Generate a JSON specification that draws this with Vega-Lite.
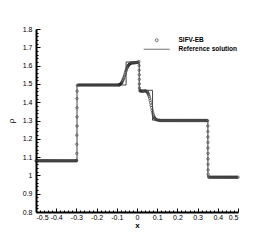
{
 "$schema": "https://vega.github.io/schema/vega-lite/v6.json",
 "width": 202, "height": 183,
 "autosize": {"type": "none"},
 "padding": {"left": 36, "top": 29, "right": 32, "bottom": 28},
 "background": "white",
 "config": {
  "view": {"stroke": null},
  "font": "Liberation Sans",
  "locale": {"number": {"decimal": ".", "thousands": ",", "grouping": [3], "currency": ["$", ""], "minus": "-"}},
  "axis": {"grid": false, "domainColor": "#000", "domainWidth": 2, "tickColor": "#000", "tickWidth": 1, "labelColor": "#000", "labelFontSize": 7, "labelFont": "Liberation Sans", "titleColor": "#000", "titleFont": "Liberation Sans"}
 },
 "datasets": {
  "ref": [
   {"x": -0.5, "y": 1.08}, {"x": -0.297, "y": 1.08}, {"x": -0.297, "y": 1.494}, {"x": -0.054, "y": 1.494}, {"x": -0.054, "y": 1.62}, {"x": 0.011, "y": 1.62}, {"x": 0.011, "y": 1.465}, {"x": 0.077, "y": 1.465}, {"x": 0.077, "y": 1.302}, {"x": 0.351, "y": 1.302}, {"x": 0.351, "y": 0.99}, {"x": 0.5, "y": 0.99}
  ],
  "num": [
   {"x": -0.5, "y": 1.08}, {"x": -0.495, "y": 1.08}, {"x": -0.49, "y": 1.08}, {"x": -0.485, "y": 1.08}, {"x": -0.48, "y": 1.08}, {"x": -0.475, "y": 1.08}, {"x": -0.47, "y": 1.08}, {"x": -0.465, "y": 1.08}, {"x": -0.46, "y": 1.08}, {"x": -0.455, "y": 1.08}, {"x": -0.45, "y": 1.08}, {"x": -0.445, "y": 1.08}, {"x": -0.44, "y": 1.08}, {"x": -0.435, "y": 1.08}, {"x": -0.43, "y": 1.08}, {"x": -0.425, "y": 1.08}, {"x": -0.42, "y": 1.08}, {"x": -0.415, "y": 1.08}, {"x": -0.41, "y": 1.08}, {"x": -0.405, "y": 1.08}, {"x": -0.4, "y": 1.08}, {"x": -0.395, "y": 1.08}, {"x": -0.39, "y": 1.08}, {"x": -0.385, "y": 1.08}, {"x": -0.38, "y": 1.08}, {"x": -0.375, "y": 1.08}, {"x": -0.37, "y": 1.08}, {"x": -0.365, "y": 1.08}, {"x": -0.36, "y": 1.08}, {"x": -0.355, "y": 1.08}, {"x": -0.35, "y": 1.08}, {"x": -0.345, "y": 1.08}, {"x": -0.34, "y": 1.08}, {"x": -0.335, "y": 1.08}, {"x": -0.33, "y": 1.08}, {"x": -0.325, "y": 1.08}, {"x": -0.32, "y": 1.08}, {"x": -0.315, "y": 1.08}, {"x": -0.31, "y": 1.08}, {"x": -0.305, "y": 1.08}, {"x": -0.3, "y": 1.08}, {"x": -0.299, "y": 1.082},
   {"x": -0.298, "y": 1.12}, {"x": -0.298, "y": 1.17}, {"x": -0.298, "y": 1.22}, {"x": -0.297, "y": 1.27}, {"x": -0.297, "y": 1.32}, {"x": -0.297, "y": 1.37}, {"x": -0.297, "y": 1.42}, {"x": -0.296, "y": 1.46},
   {"x": -0.295, "y": 1.492}, {"x": -0.29, "y": 1.494}, {"x": -0.285, "y": 1.494}, {"x": -0.28, "y": 1.494}, {"x": -0.275, "y": 1.494}, {"x": -0.27, "y": 1.494}, {"x": -0.265, "y": 1.494}, {"x": -0.26, "y": 1.494}, {"x": -0.255, "y": 1.494}, {"x": -0.25, "y": 1.494}, {"x": -0.245, "y": 1.494}, {"x": -0.24, "y": 1.494}, {"x": -0.235, "y": 1.494}, {"x": -0.23, "y": 1.494}, {"x": -0.225, "y": 1.494}, {"x": -0.22, "y": 1.494}, {"x": -0.215, "y": 1.494}, {"x": -0.21, "y": 1.494}, {"x": -0.205, "y": 1.494}, {"x": -0.2, "y": 1.494}, {"x": -0.195, "y": 1.494}, {"x": -0.19, "y": 1.494}, {"x": -0.185, "y": 1.494}, {"x": -0.18, "y": 1.494}, {"x": -0.175, "y": 1.494}, {"x": -0.17, "y": 1.494}, {"x": -0.165, "y": 1.494}, {"x": -0.16, "y": 1.494}, {"x": -0.155, "y": 1.494}, {"x": -0.15, "y": 1.494}, {"x": -0.145, "y": 1.494}, {"x": -0.14, "y": 1.494}, {"x": -0.135, "y": 1.494}, {"x": -0.13, "y": 1.494}, {"x": -0.125, "y": 1.494}, {"x": -0.12, "y": 1.494}, {"x": -0.115, "y": 1.494}, {"x": -0.11, "y": 1.494}, {"x": -0.105, "y": 1.494}, {"x": -0.1, "y": 1.494}, {"x": -0.095, "y": 1.494}, {"x": -0.09, "y": 1.494},
   {"x": -0.0875, "y": 1.495}, {"x": -0.085, "y": 1.496}, {"x": -0.0825, "y": 1.498}, {"x": -0.08, "y": 1.5}, {"x": -0.0775, "y": 1.504}, {"x": -0.075, "y": 1.508}, {"x": -0.0725, "y": 1.514}, {"x": -0.07, "y": 1.52}, {"x": -0.0675, "y": 1.527}, {"x": -0.065, "y": 1.535}, {"x": -0.0625, "y": 1.543}, {"x": -0.06, "y": 1.552}, {"x": -0.0575, "y": 1.561}, {"x": -0.055, "y": 1.57}, {"x": -0.0525, "y": 1.578}, {"x": -0.05, "y": 1.585}, {"x": -0.0475, "y": 1.591}, {"x": -0.045, "y": 1.597}, {"x": -0.0425, "y": 1.601}, {"x": -0.04, "y": 1.605}, {"x": -0.0375, "y": 1.608}, {"x": -0.035, "y": 1.61}, {"x": -0.03, "y": 1.613}, {"x": -0.025, "y": 1.614}, {"x": -0.02, "y": 1.615}, {"x": -0.015, "y": 1.615}, {"x": -0.01, "y": 1.616}, {"x": -0.005, "y": 1.616}, {"x": 0, "y": 1.617}, {"x": 0.005, "y": 1.618}, {"x": 0.009, "y": 1.622},
   {"x": 0.0105, "y": 1.6}, {"x": 0.0108, "y": 1.575}, {"x": 0.011, "y": 1.55}, {"x": 0.0113, "y": 1.525}, {"x": 0.0116, "y": 1.5}, {"x": 0.012, "y": 1.478},
   {"x": 0.014, "y": 1.463}, {"x": 0.0175, "y": 1.462}, {"x": 0.02, "y": 1.461}, {"x": 0.025, "y": 1.46}, {"x": 0.03, "y": 1.46}, {"x": 0.035, "y": 1.461}, {"x": 0.04, "y": 1.462}, {"x": 0.045, "y": 1.461}, {"x": 0.05, "y": 1.457}, {"x": 0.0525, "y": 1.453}, {"x": 0.055, "y": 1.448}, {"x": 0.0575, "y": 1.441}, {"x": 0.06, "y": 1.433}, {"x": 0.0625, "y": 1.422}, {"x": 0.065, "y": 1.41}, {"x": 0.0675, "y": 1.397}, {"x": 0.07, "y": 1.383}, {"x": 0.0725, "y": 1.37}, {"x": 0.075, "y": 1.356}, {"x": 0.0775, "y": 1.344}, {"x": 0.08, "y": 1.334}, {"x": 0.0825, "y": 1.325}, {"x": 0.085, "y": 1.318}, {"x": 0.0875, "y": 1.313}, {"x": 0.09, "y": 1.309}, {"x": 0.095, "y": 1.305}, {"x": 0.1, "y": 1.303}, {"x": 0.105, "y": 1.302}, {"x": 0.11, "y": 1.301}, {"x": 0.115, "y": 1.3},
   {"x": 0.12, "y": 1.3}, {"x": 0.125, "y": 1.3}, {"x": 0.13, "y": 1.3}, {"x": 0.135, "y": 1.3}, {"x": 0.14, "y": 1.3}, {"x": 0.145, "y": 1.3}, {"x": 0.15, "y": 1.3}, {"x": 0.155, "y": 1.3}, {"x": 0.16, "y": 1.3}, {"x": 0.165, "y": 1.3}, {"x": 0.17, "y": 1.3}, {"x": 0.175, "y": 1.3}, {"x": 0.18, "y": 1.3}, {"x": 0.185, "y": 1.3}, {"x": 0.19, "y": 1.3}, {"x": 0.195, "y": 1.3}, {"x": 0.2, "y": 1.3}, {"x": 0.205, "y": 1.3}, {"x": 0.21, "y": 1.3}, {"x": 0.215, "y": 1.3}, {"x": 0.22, "y": 1.3}, {"x": 0.225, "y": 1.3}, {"x": 0.23, "y": 1.3}, {"x": 0.235, "y": 1.3}, {"x": 0.24, "y": 1.3}, {"x": 0.245, "y": 1.3}, {"x": 0.25, "y": 1.3}, {"x": 0.255, "y": 1.3}, {"x": 0.26, "y": 1.3}, {"x": 0.265, "y": 1.3}, {"x": 0.27, "y": 1.3}, {"x": 0.275, "y": 1.3}, {"x": 0.28, "y": 1.3}, {"x": 0.285, "y": 1.3}, {"x": 0.29, "y": 1.3}, {"x": 0.295, "y": 1.3}, {"x": 0.3, "y": 1.3}, {"x": 0.305, "y": 1.3}, {"x": 0.31, "y": 1.3}, {"x": 0.315, "y": 1.3}, {"x": 0.32, "y": 1.3}, {"x": 0.325, "y": 1.3}, {"x": 0.33, "y": 1.3}, {"x": 0.335, "y": 1.3}, {"x": 0.34, "y": 1.3}, {"x": 0.345, "y": 1.3}, {"x": 0.349, "y": 1.299},
   {"x": 0.3505, "y": 1.27}, {"x": 0.3505, "y": 1.24}, {"x": 0.351, "y": 1.21}, {"x": 0.351, "y": 1.18}, {"x": 0.351, "y": 1.15}, {"x": 0.3515, "y": 1.12}, {"x": 0.3515, "y": 1.09}, {"x": 0.352, "y": 1.06}, {"x": 0.352, "y": 1.03}, {"x": 0.3525, "y": 1.005},
   {"x": 0.355, "y": 0.99}, {"x": 0.36, "y": 0.99}, {"x": 0.365, "y": 0.99}, {"x": 0.37, "y": 0.99}, {"x": 0.375, "y": 0.99}, {"x": 0.38, "y": 0.99}, {"x": 0.385, "y": 0.99}, {"x": 0.39, "y": 0.99}, {"x": 0.395, "y": 0.99}, {"x": 0.4, "y": 0.99}, {"x": 0.405, "y": 0.99}, {"x": 0.41, "y": 0.99}, {"x": 0.415, "y": 0.99}, {"x": 0.42, "y": 0.99}, {"x": 0.425, "y": 0.99}, {"x": 0.43, "y": 0.99}, {"x": 0.435, "y": 0.99}, {"x": 0.44, "y": 0.99}, {"x": 0.445, "y": 0.99}, {"x": 0.45, "y": 0.99}, {"x": 0.455, "y": 0.99}, {"x": 0.46, "y": 0.99}, {"x": 0.465, "y": 0.99}, {"x": 0.47, "y": 0.99}, {"x": 0.475, "y": 0.99}, {"x": 0.48, "y": 0.99}, {"x": 0.485, "y": 0.99}, {"x": 0.49, "y": 0.99}, {"x": 0.495, "y": 0.99}, {"x": 0.5, "y": 0.99}
  ]
 },
 "layer": [
  {
   "data": {"name": "num"},
   "mark": {"type": "point", "filled": false, "color": "#000", "opacity": 0.55, "size": 6, "strokeWidth": 1},
   "encoding": {
    "x": {"field": "x", "type": "quantitative", "scale": {"domain": [-0.5, 0.5], "nice": false, "zero": false},
     "axis": {"orient": "bottom", "values": [-0.48,-0.46,-0.44,-0.42,-0.38,-0.36,-0.34,-0.32,-0.28,-0.26,-0.24,-0.22,-0.18,-0.16,-0.14,-0.12,-0.08,-0.06,-0.04,-0.02,0.02,0.04,0.06,0.08,0.12,0.14,0.16,0.18,0.22,0.24,0.26,0.28,0.32,0.34,0.36,0.38,0.42,0.44,0.46,0.48], "labels": false, "domain": false, "title": null, "tickSize": -2}},
    "y": {"field": "y", "type": "quantitative", "scale": {"domain": [0.8, 1.8], "nice": false, "zero": false},
     "axis": {"orient": "left", "values": [0.82,0.84,0.86,0.88,0.92,0.94,0.96,0.98,1.02,1.04,1.06,1.08,1.12,1.14,1.16,1.18,1.22,1.24,1.26,1.28,1.32,1.34,1.36,1.38,1.42,1.44,1.46,1.48,1.52,1.54,1.56,1.58,1.62,1.64,1.66,1.68,1.72,1.74,1.76,1.78], "labels": false, "domain": false, "title": null, "tickSize": -2}},
    "shape": {"datum": "SIFV-EB", "type": "nominal",
     "scale": {"domain": ["SIFV-EB", "Reference solution"], "range": ["circle", "M-8.7,0H8.7"]},
     "legend": {"title": null, "orient": "none", "legendX": 117.5, "legendY": 8, "padding": 0, "labelFontSize": 6.5, "labelFontWeight": "bold", "labelColor": "#000", "labelOffset": 18.5, "rowPadding": 2,
      "symbolSize": 9,
      "symbolStrokeWidth": 1}}
   }
  },
  {
   "data": {"name": "ref"},
   "mark": {"type": "line", "color": "#444", "strokeWidth": 1},
   "encoding": {
    "x": {"field": "x", "type": "quantitative", "scale": {"domain": [-0.5, 0.5], "nice": false, "zero": false},
     "axis": {"orient": "bottom", "values": [-0.5,-0.4,-0.3,-0.2,-0.1,0,0.1,0.2,0.3,0.4,0.5], "format": ".1~f", "tickSize": -4, "labelPadding": 5, "title": "x", "titleFontSize": 8, "titleFontWeight": "bold", "titlePadding": 1}},
    "y": {"field": "y", "type": "quantitative", "scale": {"domain": [0.8, 1.8], "nice": false, "zero": false},
     "axis": {"orient": "left", "values": [0.8,0.9,1,1.1,1.2,1.3,1.4,1.5,1.6,1.7,1.8], "format": ".1~f", "tickSize": -4, "labelPadding": 8, "title": "ρ", "titleFontSize": 8, "titleFontWeight": "normal", "titlePadding": 7}},
    "order": {"value": null}
   }
  }
 ],
 "resolve": {"axis": {"x": "independent", "y": "independent"}}
}
